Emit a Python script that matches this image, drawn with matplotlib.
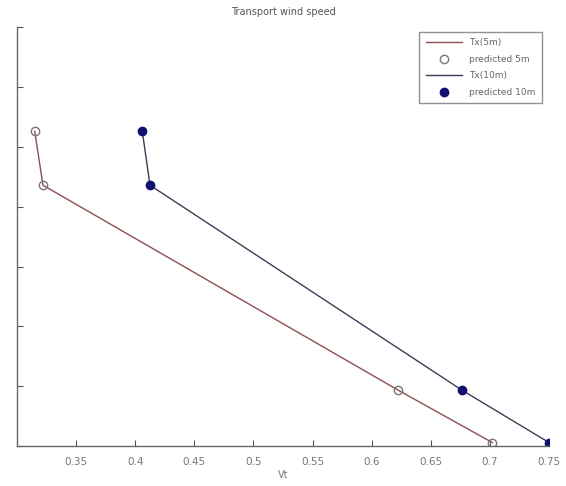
import numpy as np
import matplotlib.pyplot as plt

# values
vt_5m = [0.315, 0.322, 0.622, 0.702]
vt_10m = [0.406, 0.4125, 0.676, 0.75]
height = [2.63, 2.18, 0.47, 0.03]

xticks = [0.35, 0.4, 0.45, 0.5, 0.55, 0.6, 0.65, 0.7, 0.75]
xticklabels = ['0.35', '0.4', '0.45', '0.5', '0.55', '0.6', '0.65', '0.7', '0.75']
yticks = [0, 0.5, 1, 1.5, 2, 2.5, 3, 3.5]

fig = plt.figure(figsize=(5.66, 4.86), dpi=100)
ax = fig.add_axes([0.030, 0.082, 0.940, 0.862])

ax.plot(vt_5m, height, color='#8a5050', lw=1.0, label='Tx(5m)')
ax.plot(vt_5m, height, ls='none', marker='o', ms=6, mfc='none', mec='#777777',
        mew=1.0, label='predicted 5m')
ax.plot(vt_10m, height, color='#3c3c58', lw=1.0, label='Tx(10m)')
ax.plot(vt_10m, height, ls='none', marker='o', ms=6, mfc='#101070', mec='#101070',
        label='predicted 10m')

ax.set_xlim(0.3, 0.75)
ax.set_ylim(0, 3.5)
ax.set_xticks(xticks)
ax.set_xticklabels(xticklabels)
ax.set_yticks(yticks)
ax.tick_params(direction='in', length=4, width=0.8, colors='#555555',
               labelsize=7.5, labelcolor='#777777', pad=8)
ax.tick_params(axis='y', labelleft=False)
for s in ['top', 'right']:
    ax.spines[s].set_visible(False)
for s in ['left', 'bottom']:
    ax.spines[s].set_color('#666666')
    ax.spines[s].set_linewidth(1.0)

ax.set_title('Transport wind speed', fontsize=7, color='#555555', pad=9)
ax.set_xlabel('Vt', fontsize=7, color='#777777', labelpad=2)

leg = ax.legend(loc='upper right', bbox_to_anchor=(0.995, 1.0), fontsize=6.5,
                frameon=True, fancybox=False, edgecolor='#777777',
                handlelength=4.0, borderpad=0.7, labelspacing=0.85)
for t in leg.get_texts():
    t.set_color('#666666')

fig.savefig('out.png', dpi=100)
